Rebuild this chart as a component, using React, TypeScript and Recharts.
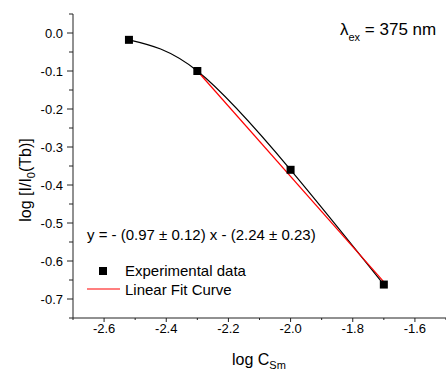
import React from 'react';
import { ComposedChart, Line, Scatter, XAxis, YAxis, Customized } from 'recharts';

// ---- data ----
const logC = [-2.52, -2.3, -2.0, -1.7];
const logI = [-0.018, -0.1, -0.36, -0.662];
const fitX = [-2.3, -1.7];
const fitY = [-0.1, -0.655];

const xMajorTicks = [-2.6, -2.4, -2.2, -2.0, -1.8, -1.6];
const xMinorTicks = [-2.7, -2.5, -2.3, -2.1, -1.9, -1.7, -1.5];
const yMajorTicks = [0.0, -0.1, -0.2, -0.3, -0.4, -0.5, -0.6, -0.7];
const yMinorTicks = [0.05, -0.05, -0.15, -0.25, -0.35, -0.45, -0.55, -0.65, -0.75];

const expData = logC.map((x, i) => ({ x, y: logI[i] }));
const fitData = fitX.map((x, i) => ({ x, y: fitY[i] }));

const xTicks = [...xMajorTicks, ...xMinorTicks].sort((a, b) => a - b);
const yTicks = [...yMajorTicks, ...yMinorTicks].sort((a, b) => a - b);

const FONT = '"Liberation Sans", Arial, sans-serif';
const AX = '#222';

const isMajor = (v: number, list: number[]) => list.some((m) => Math.abs(m - v) < 1e-9);
const fmt = (v: number) => (Math.abs(v) < 1e-9 ? '0.0' : v.toFixed(1));

const XTick = (props: any) => {
  const { x, y, payload } = props;
  const major = isMajor(payload.value, xMajorTicks);
  return (
    <g>
      <line x1={x} y1={y} x2={x} y2={y + (major ? 4 : 2)} stroke={AX} strokeWidth={1} />
      {major && (
        <text x={x} y={y + 15} textAnchor="middle" fontFamily={FONT} fontSize={13} fill="#000">
          {fmt(payload.value)}
        </text>
      )}
    </g>
  );
};

const TopTick = (props: any) => {
  const { x, y } = props;
  return <line x1={x} y1={y} x2={x} y2={y + 2} stroke={AX} strokeWidth={1} />;
};

const YTick = (props: any) => {
  const { x, y, payload } = props;
  const major = isMajor(payload.value, yMajorTicks);
  return (
    <g>
      <line x1={x} y1={y} x2={x - (major ? 6 : 4)} y2={y} stroke={AX} strokeWidth={1} />
      {major && (
        <text x={x - 10} y={y + 4.5} textAnchor="end" fontFamily={FONT} fontSize={13} fill="#000">
          {fmt(payload.value)}
        </text>
      )}
    </g>
  );
};

const Square = (p: any) => <rect x={p.cx - 4} y={p.cy - 4} width={8} height={8} fill="#000" />;

const Annotations = (
  <g fontFamily={FONT} fill="#000">
    <text x={31} y={180} fontSize={16} textAnchor="middle" transform="rotate(-90 31 180)">
      log [I/I<tspan fontSize={11} dy={4}>0</tspan>
      <tspan dy={-4}>(Tb)]</tspan>
    </text>
    <text x={232} y={365} fontSize={16}>
      log C<tspan fontSize={11} dy={4}>Sm</tspan>
    </text>
    <text x={340} y={35} fontSize={17}>
      λ<tspan fontSize={11} dy={6}>ex</tspan>
      <tspan dy={-6}> = 375 nm</tspan>
    </text>
    <text x={87} y={240} fontSize={15}>y = - (0.97 ± 0.12) x - (2.24 ± 0.23)</text>
    <rect x={99} y={267} width={8} height={8} fill="#000" />
    <text x={125} y={276} fontSize={15}>Experimental data</text>
    <line x1={87} y1={289} x2={120} y2={289} stroke="#ff0000" strokeWidth={1.2} />
    <text x={125} y={295} fontSize={15}>Linear Fit Curve</text>
  </g>
);

export default function App() {
  return (
    <div style={{ position: 'absolute', left: 0, top: 0 }}>
      <ComposedChart width={446} height={372} margin={{ top: 14, right: 0, bottom: 0, left: 0 }}>
        <XAxis
          xAxisId="x"
          dataKey="x"
          type="number"
          domain={[-2.7, -1.5]}
          allowDataOverflow
          ticks={xTicks}
          interval={0}
          tick={<XTick />}
          tickSize={0}
          tickMargin={0}
          tickLine={false}
          height={54}
          axisLine={{ stroke: AX, strokeWidth: 1 }}
        />
        <XAxis
          xAxisId="top"
          orientation="top"
          dataKey="x"
          type="number"
          domain={[-2.7, -1.5]}
          allowDataOverflow
          ticks={xTicks}
          interval={0}
          tick={<TopTick />}
          tickSize={0}
          tickMargin={0}
          tickLine={false}
          height={0}
          axisLine={{ stroke: AX, strokeWidth: 1 }}
        />
        <YAxis
          yAxisId="y"
          dataKey="y"
          type="number"
          domain={[-0.75, 0.05]}
          allowDataOverflow
          ticks={yTicks}
          interval={0}
          tick={<YTick />}
          tickSize={0}
          tickMargin={0}
          tickLine={false}
          width={73}
          axisLine={{ stroke: AX, strokeWidth: 1 }}
        />
        <Line
          xAxisId="x"
          yAxisId="y"
          data={expData}
          dataKey="y"
          type="natural"
          stroke="#000"
          strokeWidth={1.2}
          dot={false}
          activeDot={false}
          isAnimationActive={false}
        />
        <Line
          xAxisId="x"
          yAxisId="y"
          data={fitData}
          dataKey="y"
          type="linear"
          stroke="#ff0000"
          strokeWidth={1.2}
          dot={false}
          activeDot={false}
          isAnimationActive={false}
        />
        <Scatter
          xAxisId="x"
          yAxisId="y"
          data={expData}
          dataKey="y"
          shape={Square}
          isAnimationActive={false}
        />
        <Customized component={Annotations} />
      </ComposedChart>
    </div>
  );
}
